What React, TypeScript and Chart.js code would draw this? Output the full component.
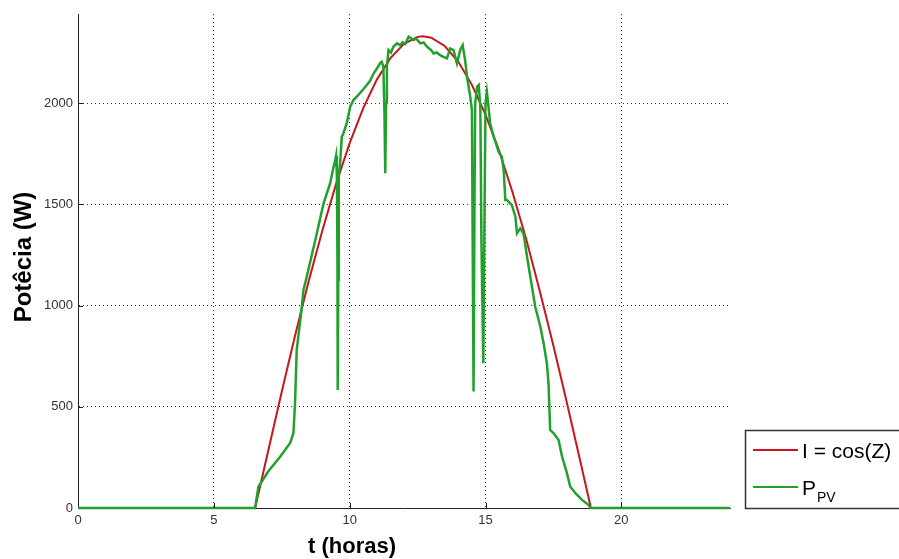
import React, { useEffect, useRef } from "react";
import { Chart, registerables } from "chart.js";

Chart.register(...registerables);

// ---- Data ----
const xTickValues = [0, 5, 10, 15, 20];
const yTickValues = [0, 500, 1000, 1500, 2000];
const xTitle = "t (horas)";
const yTitle = "Potêcia (W)";
const redLabel = "I = cos(Z)";
const greenLabelMain = "P";
const greenLabelSub = "PV";

const redT = [0, 6.52, 7.0, 7.5, 8.0, 8.5, 9.0, 9.5, 10.0, 10.5, 11.0, 11.5, 12.0, 12.5, 12.7, 13.0, 13.5, 14.0, 14.5, 15.0, 15.5, 16.0, 16.5, 17.0, 17.5, 18.0, 18.5, 18.88, 24];
const redP = [0, 0, 282, 574, 857, 1125, 1373, 1601, 1802, 1975, 2116, 2222, 2293, 2327, 2330, 2323, 2282, 2204, 2090, 1943, 1765, 1557, 1327, 1071, 801, 517, 225, 0, 0];

const greenT = [0, 6.52, 6.64, 7.0, 7.44, 7.81, 7.93, 7.99, 8.05, 8.24, 8.3, 8.42, 8.79, 9.04, 9.28, 9.4, 9.47, 9.5, 9.53, 9.55, 9.56, 9.58, 9.6, 9.65, 9.71, 9.77, 9.9, 10.02, 10.14, 10.32, 10.45, 10.63, 10.75, 10.88, 11.0, 11.12, 11.18, 11.24, 11.28, 11.31, 11.34, 11.37, 11.43, 11.52, 11.61, 11.74, 11.86, 11.95, 12.05, 12.17, 12.35, 12.45, 12.6, 12.72, 12.84, 13.0, 13.09, 13.2, 13.33, 13.45, 13.58, 13.7, 13.82, 13.95, 14.07, 14.16, 14.25, 14.32, 14.44, 14.5, 14.53, 14.56, 14.59, 14.62, 14.69, 14.75, 14.81, 14.85, 14.88, 14.92, 14.96, 15.0, 15.05, 15.11, 15.17, 15.3, 15.4, 15.48, 15.6, 15.67, 15.73, 15.79, 15.97, 16.1, 16.16, 16.28, 16.4, 16.53, 16.65, 16.83, 17.02, 17.14, 17.26, 17.32, 17.38, 17.51, 17.69, 17.82, 18.0, 18.12, 18.31, 18.55, 18.8, 18.86, 24];
const greenP = [0, 0, 105, 180, 253, 321, 370, 520, 780, 994, 1077, 1142, 1356, 1505, 1603, 1680, 1719, 1740, 1640, 1225, 583, 1126, 1640, 1703, 1834, 1850, 1905, 1982, 2015, 2040, 2060, 2089, 2110, 2146, 2170, 2196, 2204, 2180, 1950, 1654, 2000, 2180, 2262, 2250, 2278, 2295, 2286, 2300, 2292, 2328, 2311, 2318, 2295, 2300, 2279, 2262, 2245, 2250, 2237, 2228, 2221, 2270, 2262, 2196, 2262, 2286, 2212, 2130, 2031, 1965, 1259, 575, 1400, 1998, 2080, 2089, 1982, 1323, 1062, 715, 1400, 2000, 2056, 1982, 1900, 1834, 1795, 1760, 1735, 1669, 1521, 1521, 1496, 1439, 1357, 1381, 1356, 1241, 1142, 994, 895, 813, 714, 616, 385, 369, 336, 253, 171, 105, 73, 40, 15, 0, 0];

const RED = "#c8161d";
const GREEN = "#22a02c";
const FONT = '"Liberation Sans", Arial, sans-serif';

const overlayPlugin = {
  id: "overlay",
  afterDraw(chart: any) {
    const ctx = chart.ctx as CanvasRenderingContext2D;
    const { left, bottom } = chart.chartArea;
    const xs = chart.scales.x;
    const ys = chart.scales.y;
    ctx.save();
    // inward tick marks
    ctx.strokeStyle = "#222";
    ctx.lineWidth = 1;
    ctx.beginPath();
    xTickValues.forEach((v) => {
      if (v === 0) return;
      const px = Math.round(xs.getPixelForValue(v)) + 0.5;
      ctx.moveTo(px, bottom);
      ctx.lineTo(px, bottom - 5);
    });
    yTickValues.forEach((v) => {
      if (v === 0) return;
      const py = Math.round(ys.getPixelForValue(v)) + 0.5;
      ctx.moveTo(left, py);
      ctx.lineTo(left + 5, py);
    });
    ctx.stroke();

    // axis titles
    ctx.fillStyle = "#000";
    ctx.textAlign = "center";
    ctx.textBaseline = "middle";
    ctx.font = `bold 22px ${FONT}`;
    ctx.fillText(xTitle, 352, 547);
    ctx.save();
    ctx.translate(24, 257);
    ctx.rotate(-Math.PI / 2);
    ctx.font = `bold 24px ${FONT}`;
    ctx.fillText(yTitle, 0, 0);
    ctx.restore();

    // legend box
    ctx.strokeStyle = "#333";
    ctx.lineWidth = 1.5;
    ctx.strokeRect(745.5, 430.5, 170, 78);
    ctx.lineWidth = 2;
    ctx.strokeStyle = RED;
    ctx.beginPath();
    ctx.moveTo(753, 450);
    ctx.lineTo(798, 450);
    ctx.stroke();
    ctx.strokeStyle = GREEN;
    ctx.beginPath();
    ctx.moveTo(753, 487);
    ctx.lineTo(798, 487);
    ctx.stroke();
    ctx.fillStyle = "#000";
    ctx.textAlign = "left";
    ctx.textBaseline = "alphabetic";
    ctx.font = `21px ${FONT}`;
    ctx.fillText(redLabel, 802, 458);
    ctx.fillText(greenLabelMain, 802, 495);
    ctx.font = `14px ${FONT}`;
    ctx.fillText(greenLabelSub, 817, 502);
    ctx.restore();
  },
};

export default function App() {
  const canvasRef = useRef<HTMLCanvasElement | null>(null);

  useEffect(() => {
    if (!canvasRef.current) return;
    const gridColor = (c: any) => (c.tick && c.tick.value === 0 ? "rgba(0,0,0,0)" : "#333");
    const chart = new Chart(canvasRef.current, {
      type: "line",
      data: {
        datasets: [
          {
            label: "PPV",
            data: greenT.map((t, i) => ({ x: t, y: greenP[i] })),
            borderColor: GREEN,
            borderWidth: 2.5,
            pointRadius: 0,
            tension: 0,
            clip: false as any,
            order: 0,
          },
          {
            label: redLabel,
            data: redT.map((t, i) => ({ x: t, y: redP[i] })),
            borderColor: RED,
            borderWidth: 2,
            pointRadius: 0,
            tension: 0,
            clip: false as any,
            order: 1,
          },
        ],
      },
      options: {
        animation: false,
        responsive: false,
        maintainAspectRatio: false,
        layout: { padding: { top: 14, right: 169, left: 0, bottom: 0 } },
        plugins: { legend: { display: false }, tooltip: { enabled: false } },
        scales: {
          x: {
            type: "linear",
            min: 0,
            max: 24,
            afterFit: (s: any) => {
              s.height = 51;
            },
            afterBuildTicks: (s: any) => {
              s.ticks = xTickValues.map((v) => ({ value: v }));
            },
            ticks: {
              stepSize: 5,
              includeBounds: false,
              padding: 5,
              color: "#333",
              font: { family: FONT, size: 13 },
              maxRotation: 0,
              callback: (v: any) => String(v),
            },
            grid: { color: gridColor, lineWidth: 1, drawTicks: false },
            border: { display: true, color: "#222", width: 1, dash: [1, 3] },
          },
          y: {
            type: "linear",
            min: 0,
            max: 2440,
            afterFit: (s: any) => {
              s.width = 78;
            },
            afterBuildTicks: (s: any) => {
              s.ticks = yTickValues.map((v) => ({ value: v }));
            },
            ticks: {
              stepSize: 500,
              includeBounds: false,
              padding: 5,
              color: "#333",
              font: { family: FONT, size: 13 },
              callback: (v: any) => String(v),
            },
            grid: { color: gridColor, lineWidth: 1, drawTicks: false },
            border: { display: true, color: "#222", width: 1, dash: [1, 3] },
          },
        },
      },
      plugins: [overlayPlugin],
    });
    return () => chart.destroy();
  }, []);

  return (
    <div style={{ position: "fixed", left: 0, top: 0, width: 899, height: 559, background: "#fff" }}>
      <canvas ref={canvasRef} width={899} height={559} style={{ width: 899, height: 559, display: "block" }} />
    </div>
  );
}
